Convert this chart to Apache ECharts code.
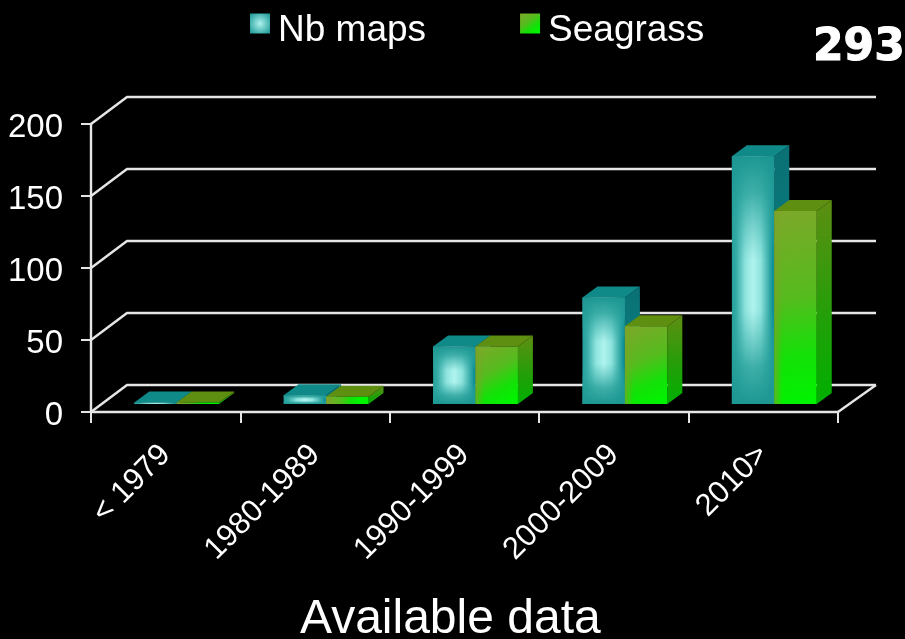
<!DOCTYPE html>
<html><head><meta charset="utf-8">
<style>html,body{margin:0;padding:0;background:#000}#c{width:905px;height:639px}</style>
<script src="https://cdn.jsdelivr.net/npm/echarts@6/dist/echarts.min.js"></script>
</head><body><div id="c"></div>
<script>
const categories = ['< 1979','1980-1989','1990-1999','2000-2009','2010>'];
const nbMaps = [1,6,40,74,172];
const seagrass = [1,5,40,54,134];
const yTicks = [0,50,100,150,200];

const FONT = '"Liberation Sans", Arial, sans-serif';
const LINE = '#e6e6e6';
const WALL_DX = 36, WALL_DY = -27;
const FRONT_DX = 11, FRONT_DY = -8;
const DEPTH_DX = 15, DEPTH_DY = -11;
const BAR_FRAC = 0.284;

const lg = (x,y,x2,y2,stops)=>({type:'linear',x,y,x2,y2,colorStops:stops.map((c,i)=>({offset:c[0],color:c[1]}))});
const styles = [
 { front: lg(0,0,1,0,[[0,'#25a09c'],[0.1,'#35aaa6'],[0.32,'#8fe4de'],[0.5,'#b0f3ee'],[0.68,'#8fe4de'],[0.88,'#35aaa6'],[0.96,'#10929a'],[1,'#0f8c94']]),
   veil: lg(0,0,0,1,[[0,'rgba(28,150,146,1)'],[0.15,'rgba(36,158,152,0.8)'],[0.42,'rgba(50,170,165,0)'],[0.62,'rgba(50,170,165,0)'],[0.85,'rgba(36,158,152,0.8)'],[1,'rgba(28,150,146,1)']]),
   top: '#108a88', side: lg(0,0,0,1,[[0,'#0a7074'],[1,'#0a8a88']]) },
 { front: lg(0,0,0.75,1,[[0,'#7da82a'],[0.45,'#56bb1e'],[0.75,'#14e008'],[1,'#00f400']]),
   veil: lg(0,0,1,0,[[0,'rgba(125,160,40,0.75)'],[0.2,'rgba(125,160,40,0)'],[1,'rgba(0,0,0,0)']]),
   top: '#5f8f10', side: lg(0,0,0,1,[[0,'#5e8e12'],[0.6,'#20a008'],[1,'#00b000']]) }
];

function barRenderer(seriesIndex){
  return function(params, api){
    const idx = api.value(0), val = api.value(1);
    const band = api.size([1,0])[0];
    const w = band * BAR_FRAC;
    const base = api.coord([idx,0]), tip = api.coord([idx,val]);
    const x0 = base[0] + FRONT_DX - w + seriesIndex*w, x1 = x0 + w;
    const yb = base[1] + FRONT_DY, yt = tip[1] + FRONT_DY;
    const s = styles[seriesIndex];
    const poly = (points, fill)=>({type:'polygon',shape:{points},style:{fill,stroke:null}});
    return {type:'group',children:[
      poly([[x1,yb],[x1+DEPTH_DX,yb+DEPTH_DY],[x1+DEPTH_DX,yt+DEPTH_DY],[x1,yt]], s.side),
      poly([[x0,yt],[x0+DEPTH_DX,yt+DEPTH_DY],[x1+DEPTH_DX,yt+DEPTH_DY],[x1,yt]], s.top),
      poly([[x0,yt],[x1,yt],[x1,yb],[x0,yb]], s.front),
      poly([[x0,yt],[x1,yt],[x1,yb],[x0,yb]], s.veil)
    ]};
  };
}

function wallRenderer(params, api){
  const val = api.value(0);
  const cs = params.coordSys;
  const y = api.coord([0,val])[1];
  const xl = cs.x, xr = cs.x + cs.width;
  const pts = [[xl,y],[xl+WALL_DX,y+WALL_DY],[xr+WALL_DX+2,y+WALL_DY]];
  const children = [{type:'polyline',shape:{points:pts},style:{stroke:LINE,lineWidth:2.4,fill:null}}];
  if (val === 0) children.push({type:'line',shape:{x1:xr,y1:y,x2:xr+WALL_DX+2,y2:y+WALL_DY},style:{stroke:LINE,lineWidth:2.4}});
  return {type:'group',children};
}

const chart = echarts.init(document.getElementById('c'),null,{renderer:'canvas'});
chart.setOption({
  backgroundColor:'#000',
  animation:false,
  title:[
    {text:'Available data',left:300,top:596,textStyle:{color:'#fff',fontFamily:FONT,fontSize:48,fontWeight:'normal'},padding:0},
    {text:'293',left:813,top:27,textStyle:{color:'#fff',fontFamily:'"DejaVu Sans"',fontSize:44,fontWeight:'bold',textBorderColor:'#fff',textBorderWidth:1},padding:0}
  ],
  legend:{
    left:250,top:12,padding:0,itemWidth:20,itemHeight:20,itemGap:94,
    formatter:n=>'{a|'+n+'}',
    textStyle:{color:'#fff',fontFamily:FONT,fontSize:37,
      rich:{a:{color:'#fff',fontFamily:FONT,fontSize:37,padding:[14,0,0,3]}}},
    data:[
      {name:'Nb maps',icon:'rect',itemStyle:{color:{type:'radial',x:.5,y:.5,r:.65,colorStops:[{offset:0,color:'#aef2ee'},{offset:1,color:'#1f9c98'}]}}},
      {name:'Seagrass',icon:'rect',itemStyle:{color:styles[1].front}}
    ]
  },
  grid:{left:91,right:67,top:124,bottom:227},
  xAxis:{type:'category',data:categories,
    axisLine:{lineStyle:{color:LINE,width:2.4}},
    axisTick:{show:true,alignWithLabel:false,length:11,lineStyle:{color:LINE,width:2}},
    axisLabel:{color:'#fff',fontFamily:FONT,fontSize:31,rotate:45,margin:38,interval:0},
    splitLine:{show:false}},
  yAxis:{type:'value',min:0,max:200,interval:50,
    axisLine:{show:true,lineStyle:{color:LINE,width:2.4}},
    axisTick:{show:true,length:10,lineStyle:{color:LINE,width:2}},
    axisLabel:{margin:28,formatter:v=>'{a|'+v+'}',
      rich:{a:{color:'#fff',fontFamily:FONT,fontSize:33,padding:[7,0,0,0]}}},
    splitLine:{show:false}},
  series:[
    {type:'custom',name:'walls',renderItem:wallRenderer,data:yTicks.map(v=>[v]),encode:{y:0},z:1,silent:true},
    {type:'custom',name:'Nb maps',renderItem:barRenderer(0),data:nbMaps.map((v,i)=>[i,v]),encode:{x:0,y:1},z:2},
    {type:'custom',name:'Seagrass',renderItem:barRenderer(1),data:seagrass.map((v,i)=>[i,v]),encode:{x:0,y:1},z:3}
  ]
});
</script></body></html>
